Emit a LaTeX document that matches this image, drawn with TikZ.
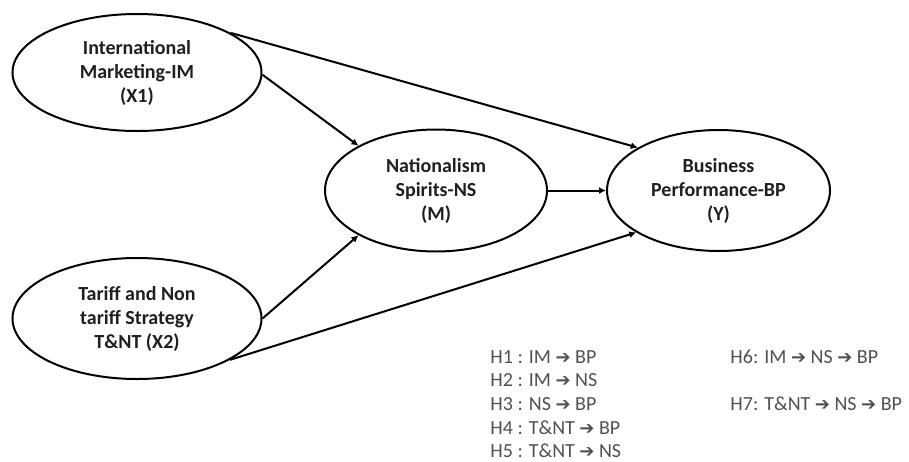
\documentclass[tikz,border=0pt]{standalone}
\usepackage{fontspec}
\setmainfont{Carlito}
\newfontfamily\arrowfont{DejaVu Sans}
\usepackage{tikz}
\usepackage{xcolor}
\usetikzlibrary{arrows.meta, shapes.geometric}
\definecolor{cInk}   {HTML}{1F1F1F}
\definecolor{cMuted} {HTML}{505050}
\newcommand{\hto}{{\arrowfont\bfseries\fontsize{9}{12}\selectfont ➔}}
\tikzset{
  construct/.style={ellipse, draw=black, line width=1pt, inner sep=0pt, align=center,
                    font=\bfseries\fontsize{10}{12}\selectfont, text=cInk},
  link/.style={line width=1pt, -{Latex[length=3.5pt,width=3.5pt]}},
  hyp/.style={anchor=west, inner sep=0pt, font=\fontsize{10}{12}\selectfont, text=cMuted},
}

\begin{document}
\begin{tikzpicture}[x=0.5pt, y=-0.5pt]
        \useasboundingbox (0,0) rectangle (909,461);
        % exogenous constructs
        \node[construct, minimum width=124.5pt, minimum height=58.5pt] (im) at (137,72.5)
              {International\\Marketing-IM\\(X1)};
        \node[construct, minimum width=124.5pt, minimum height=60.5pt] (tnt) at (137,318.5)
              {Tariff and Non\\tariff Strategy\\T\&NT (X2)};
        % mediator and outcome
        \node[construct, minimum width=111pt, minimum height=61pt] (ns) at (436,190.5)
              {Nationalism\\Spirits-NS\\(M)};
        \node[construct, minimum width=111.5pt, minimum height=60.5pt] (bp) at (718.5,190.5)
              {Business\\Performance-BP\\(Y)};
        % structural paths
        \draw[link] (im.23)   -- (bp.152);
        \draw[link] (im.-1)   -- (ns.150);
        \draw[link] (tnt.east) -- (ns.210);
        \draw[link] (tnt.-24) -- (bp.207);
        \draw[link] (ns.east) -- (bp.west);
        % hypotheses list
        \node[hyp] (h1) at (490,357)   {H1 : IM \hto\ BP};
        \node[hyp] (h2) at (490,380.5) {H2 : IM \hto\ NS};
        \node[hyp] (h3) at (490,404)   {H3 : NS \hto\ BP};
        \node[hyp] (h4) at (490,427.5) {H4 : T\&NT \hto\ BP};
        \node[hyp] (h5) at (490,451)   {H5 : T\&NT \hto\ NS};
        \node[hyp] (h6) at (730,357)   {H6: IM \hto\ NS \hto\ BP};
        \node[hyp] (h7) at (730,404)   {H7: T\&NT \hto\ NS \hto\ BP};
      \end{tikzpicture}
\end{document}
